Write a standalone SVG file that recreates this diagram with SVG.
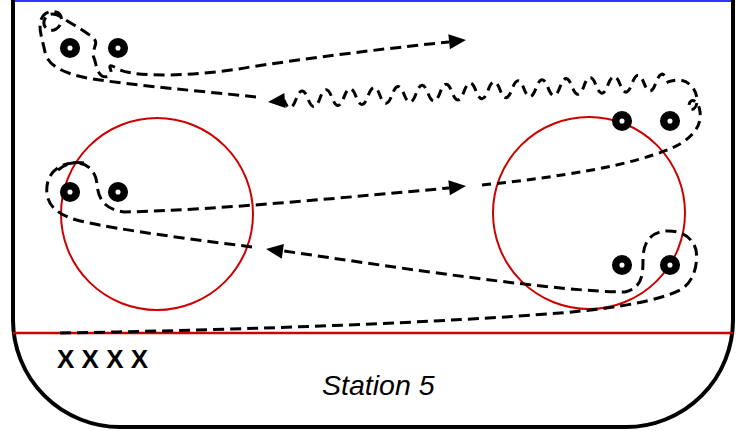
<svg xmlns="http://www.w3.org/2000/svg" xmlns:xlink="http://www.w3.org/1999/xlink" width="743" height="431" viewBox="0 0 743 431">
<style>
.d{fill:none;stroke:#000;stroke-width:3;stroke-dasharray:11 6}
.w{fill:none;stroke:#000;stroke-width:3;stroke-dasharray:9 6}
.puck{fill:#fff;stroke:#000;stroke-width:7.5}
.rc{fill:none;stroke:#cc0000;stroke-width:2}
.ah{fill:#000}
</style>
<defs>
<path id="ah" d="M0,0 L-17,-7.5 L-17,7.5 Z"/>
</defs>
<rect width="743" height="431" fill="#fff"/>
<g id="rink">
<line x1="12" y1="1" x2="734" y2="1" stroke="#3333ff" stroke-width="2"/>
<path d="M13,0 V320 A107,107 0 0 0 120,427 H626 A107,107 0 0 0 733,320 V0" fill="none" stroke="#000" stroke-width="4"/>
<line x1="13" y1="333" x2="733" y2="333" stroke="#d00000" stroke-width="2.5"/>
<circle class="rc" cx="157" cy="214" r="96"/>
<circle class="rc" cx="589" cy="213" r="96"/>
</g>
<g id="connectors">
<path class="d" d="M60,333 C250,330 450,322 560,313 C620,308 660,300 680,290 C695,282 698,262 696,250 C692,236 680,230 665,231 C648,233 643,245 643,260 C643,275 642,288 625,292 C560,292 400,268 284,251"/>
<use href="#ah" class="ah" transform="translate(266,249) rotate(188)"/>
<path class="d" d="M252,247 C190,239 120,230 85,222 C65,218 49,210 47,194 C45,176 56,164 73,163 C88,162 96,172 97,184 C98,198 104,210 125,212 C220,210 360,196 449,188"/>
<path class="d" d="M58,170 C64,165 72,161 84,163" stroke-dasharray="9 5"/>
<use href="#ah" class="ah" transform="translate(466,186) rotate(-6)"/>
<path class="w" d="M482,185 C560,177 630,166 672,148 C692,139 702,126 700,112 C699,100 690,97 689,105 C688,113 698,110 697,99 C696,88 688,80 678,80 C674,80 670,81 668,82 q-6,-16 -12,0.56 t-12,0.56 t-12,0.56 t-12,0.56 t-12,0.56 t-12,0.56 t-12,0.56 t-12,0.56 t-12,0.56 t-12,0.56 t-12,0.56 t-12,0.56 t-12,0.56 t-12,0.56 t-12,0.56 t-12,0.56 t-12,0.56 t-12,0.56 t-12,0.56 t-12,0.56 t-12,0.56 t-12,0.56 t-12,0.56 t-12,0.56 t-12,0.56 t-12,0.56 t-12,0.56 t-12,0.56 t-12,0.56 t-12,0.56 t-12,0.56 t-12,0.56"/>
<use href="#ah" class="ah" transform="translate(268,102) rotate(175)"/>
<path class="d" d="M256,97 C200,91 140,86 100,80 C70,76 48,68 45,52 C43,42 40,34 40,26 C40,15 48,10 56,12 C64,14 63,27 54,30 C46,32 41,24 46,17 C50,12 58,14 64,19 C72,24 80,28 88,34 C95,38 97,42 95,46 C94,50 92,54 94,58 C96,62 96,72 102,76 C108,79 113,73 110,68 C109,64 113,66 120,70 C140,78 200,76 250,67 C330,55 400,47 449,42"/>
<use href="#ah" class="ah" transform="translate(466,40) rotate(-6)"/>
</g>
<g id="pucks">
<circle class="puck" cx="70" cy="48" r="6.3"/>
<circle class="puck" cx="118" cy="48" r="6.3"/>
<circle class="puck" cx="622" cy="121" r="6.3"/>
<circle class="puck" cx="670" cy="121" r="6.3"/>
<circle class="puck" cx="70" cy="192" r="6.3"/>
<circle class="puck" cx="118" cy="192" r="6.3"/>
<circle class="puck" cx="622" cy="265" r="6.3"/>
<circle class="puck" cx="670" cy="265" r="6.3"/>
</g>
<g id="labels" font-family="'Liberation Sans', Arial, sans-serif">
<text x="57" y="368" font-size="26" font-weight="bold">X X X X</text>
<text x="322" y="395" font-size="28.5" font-style="italic">Station 5</text>
</g>
</svg>
